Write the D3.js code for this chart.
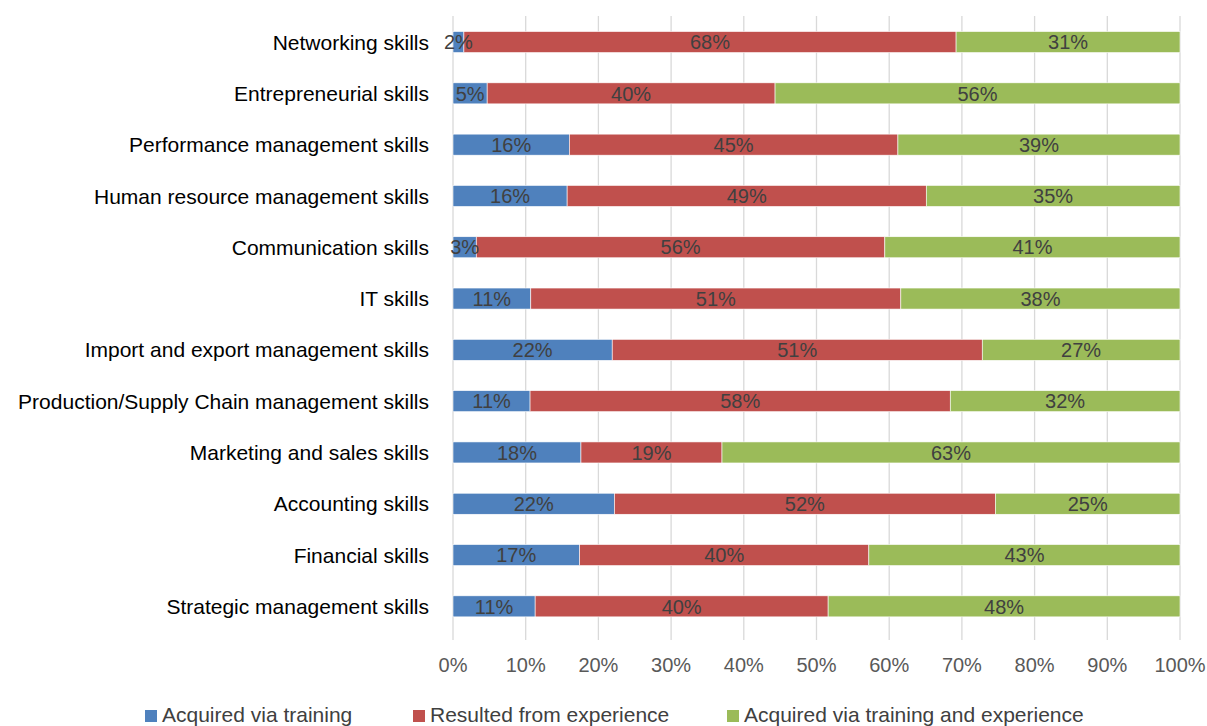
<!DOCTYPE html>
<html><head><meta charset="utf-8">
<script src="https://cdn.jsdelivr.net/npm/d3@7"></script>
<style>body{margin:0;background:#fff;} svg{display:block;}</style>
</head><body>
<svg id="c" width="1207" height="726"></svg>
<script>
const categories = ["Networking skills","Entrepreneurial skills","Performance management skills","Human resource management skills","Communication skills","IT skills","Import and export management skills","Production/Supply Chain management skills","Marketing and sales skills","Accounting skills","Financial skills","Strategic management skills"];
const seriesNames = ["Acquired via training","Resulted from experience","Acquired via training and experience"];
const training = [1.5, 4.7, 16.0, 15.7, 3.2, 10.7, 21.9, 10.6, 17.6, 22.2, 17.4, 11.3];
const experience = [67.7, 39.6, 45.2, 49.4, 56.2, 50.9, 50.9, 57.8, 19.4, 52.4, 39.8, 40.3];
const both = [30.8, 55.7, 38.8, 34.9, 40.6, 38.4, 27.2, 31.6, 63.0, 25.4, 42.8, 48.4];
const xTicks = [0,10,20,30,40,50,60,70,80,90,100];
const colors = ["#4f81bd","#c0504d","#9bbb59"];

const svg = d3.select("#c");
const font = "'Liberation Sans', Arial, sans-serif";
const x = d3.scaleLinear().domain([0,100]).range([453,1180]);
const y = d3.scaleBand().domain(categories).range([16.4,632]).paddingInner(0.59).paddingOuter(0.295);

// gridlines
svg.append("g").selectAll("line").data(xTicks).join("line")
  .attr("x1", d=>x(d)).attr("x2", d=>x(d)).attr("y1", 16).attr("y2", 640)
  .attr("stroke", "#d9d9d9").attr("stroke-width", 1.3);

const stackData = categories.map((c,i)=>({cat:c, a:training[i], b:experience[i], c:both[i]}));
const stack = d3.stack().keys(["a","b","c"])(stackData);

const g = svg.append("g");
stack.forEach((layer, si)=>{
  g.append("g").selectAll("rect").data(layer).join("rect")
    .attr("x", d=>x(d[0])).attr("width", d=>x(d[1])-x(d[0]))
    .attr("y", d=>y(d.data.cat)).attr("height", y.bandwidth())
    .attr("fill", colors[si]).attr("stroke","#ffffff").attr("stroke-width",0.6);
});
stack.forEach((layer, si)=>{
  g.append("g").selectAll("text").data(layer).join("text")
    .attr("x", d=>(x(d[0])+x(d[1]))/2).attr("y", d=>y(d.data.cat)+y.bandwidth()/2)
    .attr("dy","0.36em").attr("text-anchor","middle")
    .attr("font-family", font).attr("font-size", 20).attr("fill","#404040")
    .text(d=>Math.round(d[1]-d[0])+"%");
});

// category labels
svg.append("g").selectAll("text").data(categories).join("text")
  .attr("x", 429).attr("y", d=>y(d)+y.bandwidth()/2).attr("dy","0.36em")
  .attr("text-anchor","end").attr("font-family", font).attr("font-size", 21).attr("fill","#000")
  .text(d=>d);

// x tick labels
svg.append("g").selectAll("text").data(xTicks).join("text")
  .attr("x", d=>x(d)).attr("y", 665).attr("dy","0.36em").attr("text-anchor","middle")
  .attr("font-family", font).attr("font-size", 20).attr("fill","#595959")
  .text(d=>d+"%");

// legend
const legX = [145, 413, 727];
const leg = svg.append("g").selectAll("g").data(seriesNames).join("g")
  .attr("transform", (d,i)=>`translate(${legX[i]},0)`);
leg.append("rect").attr("x",0).attr("y",710).attr("width",12).attr("height",12).attr("fill",(d,i)=>colors[i]);
leg.append("text").attr("x",17).attr("y",722)
  .attr("font-family", font).attr("font-size", 21).attr("fill","#404040").text(d=>d);
</script>
</body></html>
